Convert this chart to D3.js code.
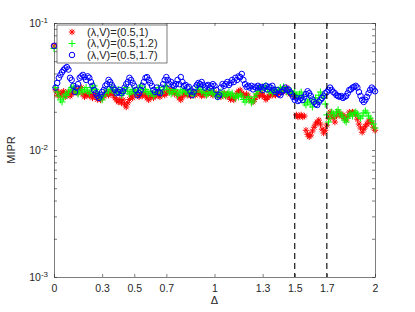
<!DOCTYPE html>
<html>
<head>
<meta charset="utf-8">
<script src="https://cdn.jsdelivr.net/npm/d3@7"></script>
<style>
  body { margin: 0; background: #fff; }
  text { font-family: "Liberation Sans", Arial, sans-serif; fill: #262626; }
</style>
</head>
<body>
<div id="plot"></div>
<script>
// Delta grid (0 to 2, step 0.01)
var delta = d3.range(201).map(i => +(i * 0.01).toFixed(2));

// MIPR for (lambda,V) = (0.5,1)
var miprV1 = [
  0.066, 0.0297, 0.027, 0.0286, 0.0266, 0.028, 0.029, 0.0262, 0.0276, 0.0286,
  0.0266, 0.0276, 0.0297, 0.0286, 0.030, 0.028, 0.0297, 0.031, 0.0276, 0.0262,
  0.027, 0.028, 0.0266, 0.0276, 0.0257, 0.0266, 0.0276, 0.025, 0.0262, 0.0248,
  0.0257, 0.0266, 0.0276, 0.0286, 0.027, 0.028, 0.029, 0.027, 0.0257, 0.0248,
  0.0239, 0.025, 0.0235, 0.0248, 0.023, 0.0218, 0.0235, 0.025, 0.0266, 0.0257,
  0.0276, 0.0286, 0.027, 0.0262, 0.0276, 0.0266, 0.028, 0.027, 0.0257, 0.0248,
  0.0262, 0.027, 0.0257, 0.0266, 0.028, 0.027, 0.0262, 0.0276, 0.0286, 0.027,
  0.028, 0.0297, 0.0286, 0.030, 0.029, 0.0276, 0.0286, 0.027, 0.0257, 0.0248,
  0.0262, 0.0276, 0.0286, 0.027, 0.028, 0.0266, 0.0276, 0.0286, 0.027, 0.028,
  0.029, 0.0276, 0.0266, 0.028, 0.027, 0.0286, 0.0276, 0.029, 0.028, 0.027,
  0.0286,
  0.0276, 0.0266, 0.0276, 0.0262, 0.027, 0.028, 0.0266, 0.0276, 0.0262, 0.025,
  0.0266, 0.0248, 0.0262, 0.028, 0.029, 0.0297, 0.028, 0.027, 0.0262, 0.0276,
  0.0266, 0.025, 0.0243, 0.0239, 0.025, 0.0266, 0.0276, 0.0266, 0.028, 0.027,
  0.0262, 0.025, 0.0257, 0.0266, 0.0276, 0.027, 0.028, 0.027, 0.0286, 0.0276,
  0.0286, 0.0297, 0.0286, 0.030, 0.031, 0.029, 0.0276, 0.0286, 0.027, 0.0262,
  0.0189, 0.0182, 0.0185, 0.0189, 0.0182, 0.0185, 0.0143, 0.0133, 0.0127, 0.0131,
  0.0141, 0.0151, 0.016, 0.0166, 0.0172, 0.016, 0.0146, 0.0136, 0.0143, 0.0157,
  0.0178, 0.0199, 0.0189, 0.0178, 0.0166, 0.0185, 0.0199, 0.0193, 0.0185, 0.0189,
  0.0178, 0.0172, 0.0185, 0.0199, 0.0193, 0.0199, 0.0196, 0.0189, 0.0175, 0.016,
  0.0149, 0.0138, 0.0146, 0.0154, 0.016, 0.0169, 0.0172, 0.0163, 0.0151, 0.0143
];

// MIPR for (lambda,V) = (0.5,1.2)
var miprV12 = [
  0.063, 0.031, 0.0286, 0.0266, 0.0248, 0.0239, 0.0257, 0.0276, 0.027, 0.0286,
  0.0297, 0.031, 0.0314, 0.0297, 0.0286, 0.0276, 0.029, 0.030, 0.0286, 0.0297,
  0.031, 0.029, 0.028, 0.0297, 0.031, 0.032, 0.030, 0.0286, 0.027, 0.0257,
  0.0248, 0.0266, 0.028, 0.0297, 0.0286, 0.030, 0.0314, 0.0297, 0.028, 0.029,
  0.030, 0.0286, 0.027, 0.028, 0.0297, 0.031, 0.029, 0.0276, 0.0286, 0.030,
  0.029, 0.028, 0.0297, 0.031, 0.032, 0.030, 0.029, 0.030, 0.0286, 0.0276,
  0.029, 0.028, 0.0266, 0.0276, 0.029, 0.031, 0.0297, 0.028, 0.0297, 0.0314,
  0.032, 0.030, 0.0286, 0.0276, 0.029, 0.030, 0.0286, 0.027, 0.028, 0.0297,
  0.0286, 0.030, 0.029, 0.0276, 0.0286, 0.0297, 0.028, 0.027, 0.0286, 0.030,
  0.0314, 0.030, 0.0286, 0.0297, 0.028, 0.027, 0.028, 0.0297, 0.0286, 0.0276,
  0.0286, 0.027, 0.0262, 0.0276, 0.0286, 0.027, 0.028, 0.0266, 0.0276, 0.0286,
  0.027, 0.028, 0.0266, 0.0257, 0.027, 0.0262, 0.0276, 0.0266, 0.025, 0.0239,
  0.0248, 0.0262, 0.025, 0.0235, 0.0243, 0.0262, 0.0276, 0.029, 0.031, 0.0297,
  0.0314, 0.030, 0.032, 0.030, 0.0286, 0.0297, 0.028, 0.029, 0.030, 0.0286,
  0.0297, 0.031, 0.029, 0.0314, 0.030, 0.0286, 0.0297, 0.028, 0.029, 0.0276,
  0.0286, 0.027, 0.0262, 0.0276, 0.0286, 0.0266, 0.0235, 0.0226, 0.0239, 0.0248,
  0.023, 0.0218, 0.0235, 0.0257, 0.0243, 0.027, 0.0286, 0.027, 0.0257, 0.023,
  0.0189, 0.0166, 0.0178, 0.0199, 0.0193, 0.0185, 0.0199, 0.0207, 0.0196, 0.0189,
  0.0182, 0.0172, 0.0166, 0.0178, 0.0189, 0.0193, 0.0185, 0.0196, 0.0199, 0.0193,
  0.0185, 0.0178, 0.0185, 0.0196, 0.0203, 0.0196, 0.0185, 0.0178, 0.0169, 0.016,
  0.0149
];

// MIPR for (lambda,V) = (0.5,1.7)
var miprV17 = [
  0.066, 0.031, 0.0337, 0.037, 0.039, 0.041, 0.0427, 0.044, 0.045, 0.043,
  0.037, 0.0356, 0.032, 0.0286, 0.031, 0.033, 0.037, 0.038, 0.039, 0.0375,
  0.0356, 0.038, 0.037, 0.0343, 0.032, 0.0297, 0.028, 0.0266, 0.0257, 0.027,
  0.0286, 0.0297, 0.032, 0.033, 0.0356, 0.0343, 0.0325, 0.031, 0.0297, 0.028,
  0.0286, 0.0297, 0.028, 0.029, 0.031, 0.033, 0.0343, 0.037, 0.0356, 0.0337,
  0.032, 0.0297, 0.027, 0.028, 0.0297, 0.032, 0.0343, 0.037, 0.0375, 0.0356,
  0.0337, 0.032, 0.0297, 0.0286, 0.031, 0.0286, 0.028, 0.031, 0.033, 0.0356,
  0.0375, 0.0356, 0.033, 0.0343, 0.0325, 0.032, 0.033, 0.0356, 0.033, 0.0375,
  0.0343, 0.032, 0.0325, 0.031, 0.0314, 0.029, 0.027, 0.0286, 0.031, 0.0325,
  0.0337, 0.033, 0.0343, 0.0325, 0.031, 0.032, 0.0325, 0.031, 0.032, 0.033,
  0.032, 0.0297, 0.0262, 0.027, 0.031, 0.033, 0.032, 0.033, 0.0343, 0.0325,
  0.0337, 0.0356, 0.0343, 0.037, 0.0356, 0.038, 0.0375, 0.0397, 0.0356, 0.033,
  0.0314, 0.032, 0.031, 0.032, 0.030, 0.0314, 0.031, 0.032, 0.031, 0.0314,
  0.0297, 0.031, 0.032, 0.030, 0.0314, 0.031, 0.032, 0.0297, 0.0286, 0.0297,
  0.0276, 0.027, 0.0286, 0.0297, 0.031, 0.0297, 0.030, 0.0286, 0.0276, 0.0262,
  0.0248, 0.0257, 0.0243, 0.0248, 0.0257, 0.0248, 0.0262, 0.0276, 0.029, 0.028,
  0.0266, 0.025, 0.0239, 0.023, 0.0226, 0.0239, 0.0248, 0.0257, 0.0266, 0.028,
  0.0286, 0.0297, 0.031, 0.0297, 0.0286, 0.028, 0.027, 0.0266, 0.0262, 0.0266,
  0.0257, 0.0262, 0.0266, 0.028, 0.0297, 0.030, 0.031, 0.0314, 0.032, 0.031,
  0.0286, 0.0266, 0.0248, 0.0239, 0.0248, 0.0262, 0.028, 0.0297, 0.031, 0.030,
  0.029
];

var seriesNames = ["(\u03bb,V)=(0.5,1)", "(\u03bb,V)=(0.5,1.2)", "(\u03bb,V)=(0.5,1.7)"];
var seriesColors = ["#ff0000", "#00ff00", "#0000ff"];
var seriesMarkers = ["star", "plus", "circle"];

// Tick values and labels
var xTicks = [0, 0.3, 0.5, 0.7, 1, 1.3, 1.5, 1.7, 2];
var xTickLabels = ["0", "0.3", "0.5", "0.7", "1", "1.3", "1.5", "1.7", "2"];
var yMajorTicks = [0.001, 0.01, 0.1];
var yExponents = ["-3", "-2", "-1"];
var yMinorTicks = [0.002, 0.003, 0.004, 0.005, 0.006, 0.007, 0.008, 0.009,
                   0.02, 0.03, 0.04, 0.05, 0.06, 0.07, 0.08, 0.09];
var dashedAt = [1.5, 1.7];

// Define SVG area dimensions
var svgWidth = 415;
var svgHeight = 312;
var margin = { top: 23, right: 40, bottom: 35, left: 54 };
var chartWidth = svgWidth - margin.left - margin.right;
var chartHeight = svgHeight - margin.top - margin.bottom;

var svg = d3.select("#plot")
  .append("svg")
  .attr("width", svgWidth)
  .attr("height", svgHeight);

var chartGroup = svg.append("g")
  .attr("transform", `translate(${margin.left}, ${margin.top})`);

var xScale = d3.scaleLinear().domain([0, 2]).range([0, chartWidth]);
var yScale = d3.scaleLog().domain([0.001, 0.1]).range([chartHeight, 0]);

var axisColor = "#262626";
var tickLen = 3;

// Axes (ticks point inward, like MATLAB)
var bottomAxis = d3.axisBottom(xScale).tickValues(xTicks)
  .tickFormat((d, i) => xTickLabels[i]).tickSizeInner(-tickLen).tickSizeOuter(0).tickPadding(8);
var topAxis = d3.axisTop(xScale).tickValues(xTicks)
  .tickFormat("").tickSizeInner(-tickLen).tickSizeOuter(0);
var leftAxis = d3.axisLeft(yScale).tickValues(yMajorTicks.concat(yMinorTicks))
  .tickFormat("").tickSizeInner(-tickLen).tickSizeOuter(0);
var rightAxis = d3.axisRight(yScale).tickValues(yMajorTicks.concat(yMinorTicks))
  .tickFormat("").tickSizeInner(-tickLen).tickSizeOuter(0);

var gx = chartGroup.append("g").attr("transform", `translate(0, ${chartHeight})`).call(bottomAxis);
var gt = chartGroup.append("g").call(topAxis);
var gl = chartGroup.append("g").call(leftAxis);
var gr = chartGroup.append("g").attr("transform", `translate(${chartWidth}, 0)`).call(rightAxis);

[gx, gt, gl, gr].forEach(function (g) {
  g.selectAll("path, line").attr("stroke", axisColor).attr("stroke-width", 0.6);
});
gx.selectAll("text")
  .style("font-family", "'Liberation Sans', Arial, sans-serif")
  .style("font-size", "10.5px")
  .attr("fill", axisColor);

// Y tick labels with exponent
var yLabels = chartGroup.selectAll(".ylab")
  .data(yMajorTicks)
  .enter()
  .append("text")
  .attr("class", "ylab")
  .attr("x", -6)
  .attr("y", d => yScale(d))
  .attr("dy", "0.38em")
  .attr("text-anchor", "end")
  .style("font-size", "10.5px");
yLabels.append("tspan").text("10");
yLabels.append("tspan")
  .attr("dy", "-0.5em")
  .style("font-size", "8px")
  .text((d, i) => yExponents[i]);

// Axis titles
chartGroup.append("text")
  .attr("transform", `translate(${-39}, ${chartHeight / 2}) rotate(-90)`)
  .attr("text-anchor", "middle")
  .style("font-size", "11px")
  .text("MIPR");

chartGroup.append("text")
  .attr("x", xScale(1))
  .attr("y", chartHeight + 27)
  .attr("text-anchor", "middle")
  .style("font-size", "11px")
  .text("\u0394");

// Marker shapes
function markerPath(type) {
  if (type === "star") {
    var s = 3.2, d = 2.3;
    return `M${-s},0L${s},0M0,${-s}L0,${s}M${-d},${-d}L${d},${d}M${-d},${d}L${d},${-d}`;
  }
  if (type === "plus") {
    var p = 3.5;
    return `M${-p},0L${p},0M0,${-p}L0,${p}`;
  }
  return d3.symbol(d3.symbolCircle, 24)();
}

var seriesData = [miprV1, miprV12, miprV17];
var plotGroup = chartGroup.append("g");

seriesData.forEach(function (values, k) {
  plotGroup.append("g")
    .selectAll("path")
    .data(values)
    .enter()
    .append("path")
    .attr("transform", (d, i) => `translate(${xScale(delta[i])}, ${yScale(d)})`)
    .attr("d", markerPath(seriesMarkers[k]))
    .attr("fill", "none")
    .attr("stroke", seriesColors[k])
    .attr("stroke-width", 1);
});

// Dashed vertical lines
chartGroup.selectAll(".vline")
  .data(dashedAt)
  .enter()
  .append("line")
  .attr("class", "vline")
  .attr("x1", d => xScale(d))
  .attr("x2", d => xScale(d))
  .attr("y1", 0)
  .attr("y2", chartHeight)
  .attr("stroke", "#000")
  .attr("stroke-width", 1.1)
  .attr("stroke-dasharray", "6,4");

// Legend
var legend = chartGroup.append("g").attr("transform", "translate(3, 2)");
legend.append("rect")
  .attr("width", 110)
  .attr("height", 38)
  .attr("fill", "#fff")
  .attr("stroke", axisColor)
  .attr("stroke-width", 0.6);

seriesNames.forEach(function (name, k) {
  var row = legend.append("g").attr("transform", `translate(0, ${7 + k * 11.5})`);
  row.append("path")
    .attr("transform", "translate(15, 0)")
    .attr("d", markerPath(seriesMarkers[k]))
    .attr("fill", "none")
    .attr("stroke", seriesColors[k])
    .attr("stroke-width", 1);
  row.append("text")
    .attr("x", 30)
    .attr("dy", "0.36em")
    .style("font-size", "11px")
    .text(name);
});
</script>
</body>
</html>
